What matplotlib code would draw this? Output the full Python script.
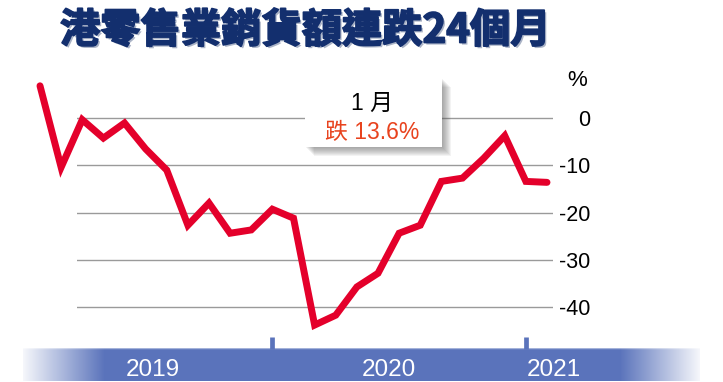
import numpy as np
import matplotlib.pyplot as plt
import matplotlib.transforms as mtransforms
import matplotlib.patheffects as pe
from matplotlib.patches import Rectangle

plt.rcParams['axes.unicode_minus'] = False
plt.rcParams['font.family'] = ['Liberation Sans', 'Noto Sans CJK TC']

# retail sales value, y/y %, Jan 2019 - Jan 2021
months = ['2019-01', '2019-02', '2019-03', '2019-04', '2019-05', '2019-06',
          '2019-07', '2019-08', '2019-09', '2019-10', '2019-11', '2019-12',
          '2020-01', '2020-02', '2020-03', '2020-04', '2020-05', '2020-06',
          '2020-07', '2020-08', '2020-09', '2020-10', '2020-11', '2020-12',
          '2021-01']
values = [6.9, -10.4, -0.3, -4.2, -1.0, -6.5, -11.0, -22.7, -18.0, -24.4,
          -23.7, -19.3, -21.2, -43.9, -41.8, -35.8, -32.9, -24.4, -22.7,
          -13.4, -12.7, -8.5, -3.7, -13.4, -13.6]
yticks = [0, -10, -20, -30, -40]
ytick_labels = ['0', '-10', '-20', '-30', '-40']
year_labels = ['2019', '2020', '2021']
year_pos = [5.35, 16.5, 24.33]
year_breaks = [11, 23]

W, H = 723, 382
def fx(x):
    return x / W
def fy(y):
    return 1 - y / H

red = '#e4002b'
blue = (0x5a / 255, 0x73 / 255, 0xbb / 255)
navy = '#132f6e'

fig = plt.figure(figsize=(7.23, 3.82), dpi=100)

# bottom year band (behind the main axes)
bax = fig.add_axes([fx(23), fy(381), (700 - 23) / W, (381 - 348) / H])
bax.set_zorder(0)
n = 677
alpha = np.ones(n)
alpha[:82] = np.linspace(0.06, 1, 82)
alpha[-80:] = np.linspace(1, 0.06, 80)
grad = np.zeros((1, n, 4))
grad[0, :, 0] = blue[0]
grad[0, :, 1] = blue[1]
grad[0, :, 2] = blue[2]
grad[0, :, 3] = alpha
bax.imshow(grad, aspect='auto', extent=(0, n, 0, 1), interpolation='nearest')
bax.axhline(0.985, color='white', alpha=0.45, lw=1)
bax.set_xlim(0, n)
bax.set_ylim(0, 1)
bax.axis('off')

ax = fig.add_axes([fx(77), fy(340), (553 - 77) / W, (340 - 60) / H])
ax.set_zorder(1)
xval = np.arange(len(values))
ax.plot(xval, values, color=red, lw=5, solid_joinstyle='miter',
        solid_capstyle='round', clip_on=False, zorder=5)
ax.set_xlim(1.7515, 24.284)
ax.set_ylim(-47.07, 12.378)
ax.set_yticks(yticks)
ax.set_yticklabels(ytick_labels)
ax.yaxis.tick_right()
ax.tick_params(axis='y', length=0, pad=26.6, labelsize=15.5)
plt.setp(ax.get_yticklabels(), ha='right')
ax.set_xticks([])
ax.yaxis.grid(True, color='#9a9a9a', lw=1)
ax.set_axisbelow(True)
for s in ax.spines.values():
    s.set_visible(False)
ax.patch.set_alpha(0)

fig.text(fx(577), fy(80), '%', ha='center', va='center', fontsize=16)

# title
fig.text(fx(60), fy(31), '港零售業銷貨額連跌24個月', ha='left', va='center',
         fontsize=29, fontweight='bold', family='Noto Sans CJK TC', color=navy,
         path_effects=[pe.withSimplePatchShadow(offset=(1.5, -1.5), shadow_rgbFace='#aab3c6', alpha=1),
                       pe.Stroke(linewidth=1.3, foreground=navy), pe.Normal()])

# callout box with soft shadow
bx0, by0, bx1, by1 = 305, 78, 442, 147
for d in range(1, 10):
    fig.add_artist(Rectangle((fx(bx0 + d), fy(by1 + d)), (bx1 - bx0) / W, (by1 - by0) / H,
                             transform=fig.transFigure, facecolor='#555555',
                             edgecolor='none', alpha=0.07, zorder=6))
fig.add_artist(Rectangle((fx(bx0), fy(by1)), (bx1 - bx0) / W, (by1 - by0) / H,
                         transform=fig.transFigure, facecolor='white',
                         edgecolor='none', zorder=7))
fig.text(fx(372), fy(110), '1 月', ha='center', va='baseline', fontsize=16.5, zorder=8)
fig.text(fx(372.5), fy(139.3), '跌 13.6%', ha='center', va='baseline', fontsize=16.5,
         color='#e8431e', zorder=8)

trans = mtransforms.blended_transform_factory(ax.transData, fig.transFigure)
for xb in year_breaks:
    ax.plot([xb, xb], [fy(337), fy(348.5)], transform=trans, color=blue, lw=3.4,
            solid_capstyle='butt', clip_on=False)
for lab, xp in zip(year_labels, year_pos):
    ax.text(xp, fy(375.5), lab, transform=trans, ha='center', va='baseline',
            fontsize=17.5, color='white', clip_on=False, zorder=10)

plt.savefig('out.png', dpi=100)
